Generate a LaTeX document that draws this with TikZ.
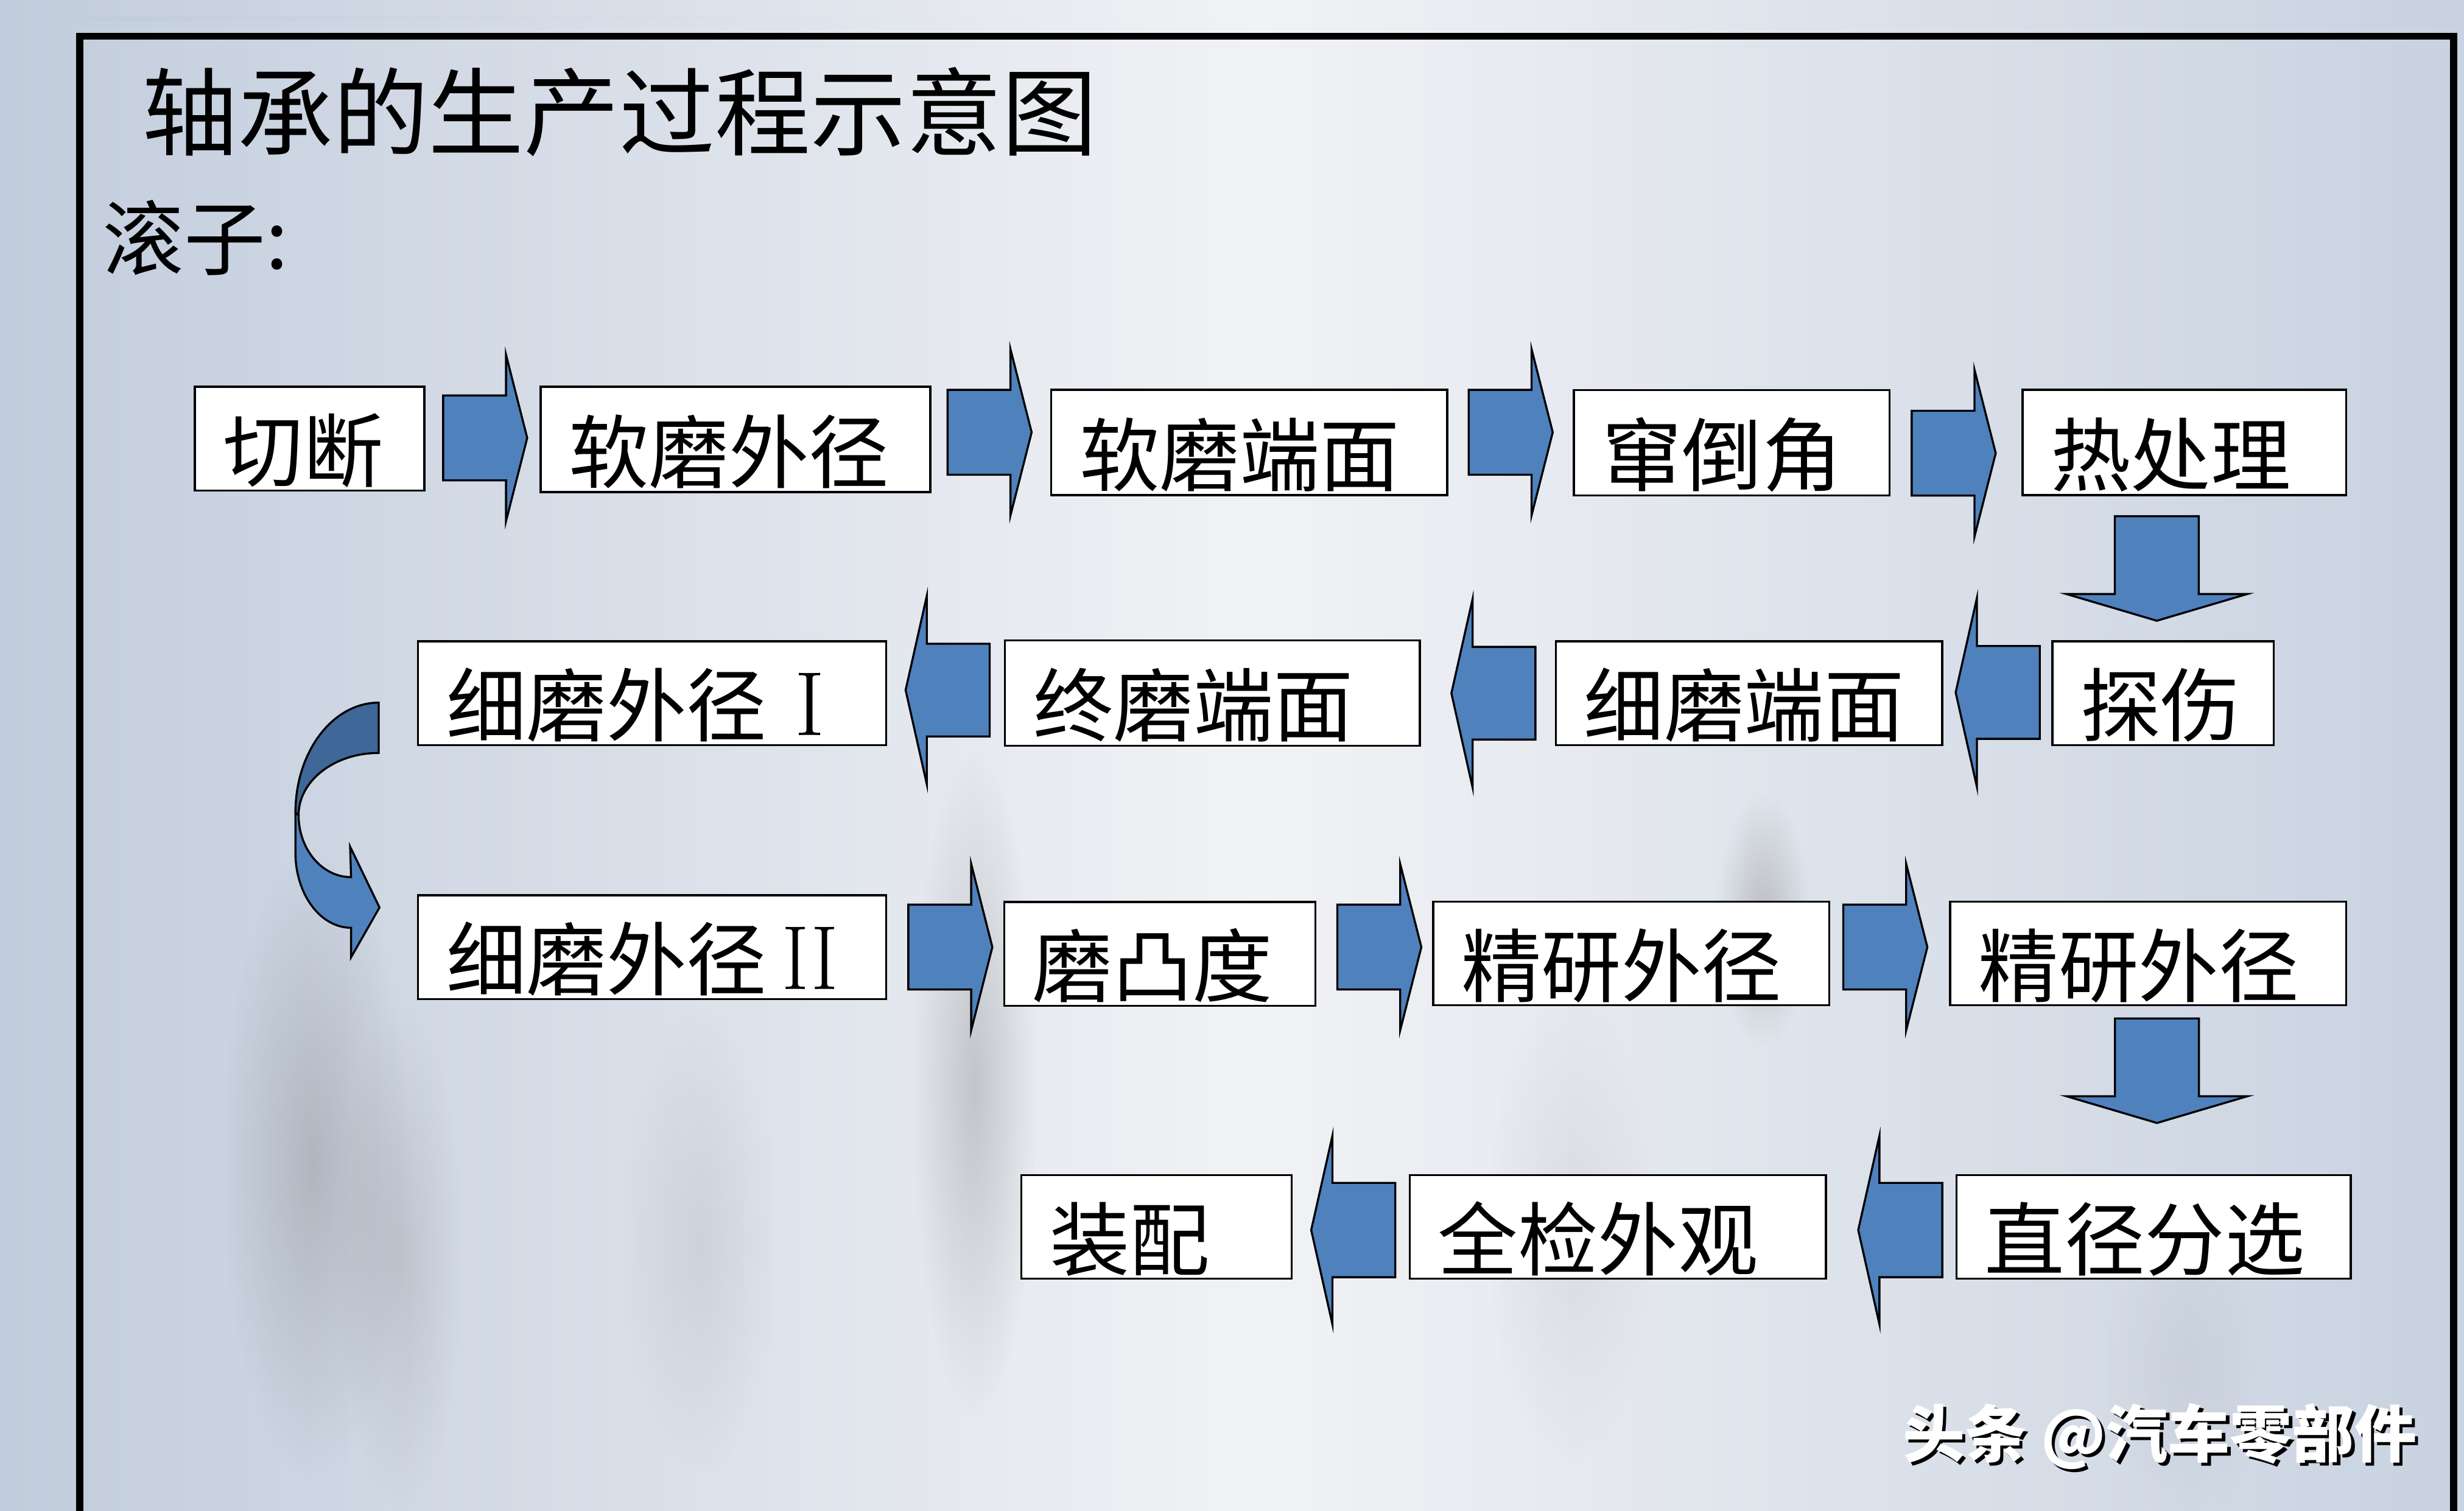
\documentclass[tikz,border=0pt]{standalone}
\usepackage{fontspec}
\usepackage{graphicx}
\newfontfamily\cjk{Noto Sans CJK SC}
\usetikzlibrary{calc}
\usetikzlibrary{fadings}
\pgfdeclarelayer{background}
\pgfdeclarelayer{edgelayer}
\pgfdeclarelayer{nodelayer}
\pgfsetlayers{background,edgelayer,nodelayer,main}
\definecolor{blockblue}{HTML}{4F81BD}
\definecolor{blockdark}{HTML}{3F6797}
\definecolor{bgside}{HTML}{C1CCDC}
\definecolor{bgmid}{HTML}{F1F2F5}
\definecolor{bgright}{HTML}{C8D2E0}
\definecolor{ruleblue}{HTML}{2C6AA3}
\tikzfading[name=fuzzy blob, inner color=transparent!0, outer color=transparent!100]
\tikzstyle{none}=[inner sep=0pt]
\tikzstyle{step_box}=[draw=black, fill=white, line width=0.74pt, inner ysep=0pt, inner xsep=0.36cm, align=left, text height=1.2cm, text depth=0.12cm, font=\cjk\fontsize{29pt}{29pt}\selectfont]
\tikzstyle{block_arrow}=[draw=black, fill=blockblue, line width=0.74pt, line join=miter]
\tikzstyle{smudge}=[black!60, path fading=fuzzy blob]
% block arrows: tail x, centre y, half shaft, half head
\newcommand{\rightblock}[4]{\draw [style=block_arrow] (#1,#2-#3) -- (#1+40,#2-#3) -- (#1+40,#2-#4) -- (#1+53.5,#2) -- (#1+40,#2+#4) -- (#1+40,#2+#3) -- (#1,#2+#3) -- cycle;}
\newcommand{\leftblock}[4]{\draw [style=block_arrow] (#1,#2-#3) -- (#1-40,#2-#3) -- (#1-40,#2-#4) -- (#1-53.5,#2) -- (#1-40,#2+#4) -- (#1-40,#2+#3) -- (#1,#2+#3) -- cycle;}
% centre x, top y
\newcommand{\downblock}[2]{\draw [style=block_arrow] (#1-26.7,#2) -- (#1+26.7,#2) -- (#1+26.7,#2+49.5) -- (#1+57.5,#2+49.5) -- (#1,#2+66.5) -- (#1-57.5,#2+49.5) -- (#1-26.7,#2+49.5) -- cycle;}

\begin{document}
\begin{tikzpicture}[x=0.02cm, y=-0.02cm]
	\useasboundingbox (0,0) rectangle (1568,961);
	\begin{pgfonlayer}{background}
		\shade [left color=bgside, right color=bgmid] (0,0) rectangle (800,961);
		\shade [left color=bgmid, right color=bgright] (800,0) rectangle (1568,961);
		% blurred figures behind the chart
		\fill [style=smudge, opacity=0.28] (200,740) ellipse (60 and 200);
		\fill [style=smudge, opacity=0.18] (255,800) ellipse (40 and 160);
		\fill [style=smudge, opacity=0.12] (445,790) ellipse (50 and 150);
		\fill [style=smudge, opacity=0.28] (620,690) ellipse (40 and 210);
		\fill [style=smudge, opacity=0.1] (1000,780) ellipse (55 and 150);
		\fill [style=smudge, opacity=0.3] (1122,585) ellipse (30 and 80);
		\fill [style=smudge, opacity=0.08] (1390,870) ellipse (50 and 100);
		\shade [left color=bgside, middle color=ruleblue, right color=bgmid] (57,10.4) rectangle (799,13.6);
		\draw [line width=0.09cm] (50.8,990) -- (50.8,23) -- (1561.5,23) -- (1561.5,990);
	\end{pgfonlayer}
	\begin{pgfonlayer}{nodelayer}
		\node [style=step_box, text width=2.2cm, minimum height=1.32cm] (0) at (197, 279) {切断};
		\node [style=step_box, text width=4.24cm, minimum height=1.34cm] (1) at (468, 279.5) {软磨外径};
		\node [style=step_box, text width=4.32cm, minimum height=1.34cm] (2) at (795, 281.5) {软磨端面};
		\node [style=step_box, text width=3.3cm, minimum height=1.34cm] (3) at (1102, 281.7) {窜倒角};
		\node [style=step_box, text width=3.4cm, minimum height=1.34cm] (4) at (1390, 281.5) {热处理};
		\node [style=step_box, text width=2.1cm, minimum height=1.32cm] (5) at (1376.5, 441) {探伤};
		\node [style=step_box, text width=4.2cm, minimum height=1.32cm] (6) at (1113, 441) {细磨端面};
		\node [style=step_box, text width=4.56cm, minimum height=1.34cm] (7) at (771.5, 441) {终磨端面};
		\node [style=step_box, text width=5.24cm, minimum height=1.32cm] (8) at (415, 441) {细磨外径\hspace{0.36cm}{\rmfamily\fontsize{33pt}{33pt}\selectfont I}};
		\node [style=step_box, text width=5.24cm, minimum height=1.32cm] (9) at (415, 602.5) {细磨外径\hspace{0.2cm}{\rmfamily\fontsize{33pt}{33pt}\selectfont\scalebox{0.9}[1]{II}}};
		\node [style=step_box, text width=3.24cm, minimum height=1.32cm] (10) at (738, 606.8) {磨凸度};
		\node [style=step_box, text width=4.32cm, minimum height=1.32cm] (11) at (1038, 606.5) {精研外径};
		\node [style=step_box, text width=4.32cm, minimum height=1.32cm] (12) at (1367, 606.5) {精研外径};
		\node [style=step_box, text width=4.3cm, minimum height=1.32cm] (13) at (1370.5, 780.5) {直径分选};
		\node [style=step_box, text width=4.58cm, minimum height=1.32cm] (14) at (1029.5, 780.5) {全检外观};
		\node [style=step_box, text width=2.72cm, minimum height=1.32cm] (15) at (736, 780.5) {装配};
	\end{pgfonlayer}
	\begin{pgfonlayer}{edgelayer}
		\rightblock{282}{278.6}{27}{53}
		\rightblock{603}{275}{27}{53}
		\rightblock{934.6}{275}{27}{53}
		\rightblock{1216.5}{288.3}{27}{53}
		\downblock{1372.5}{328.4}
		\leftblock{1298}{440.5}{29.5}{60}
		\leftblock{977.1}{441}{29.5}{60}
		\leftblock{629.8}{439}{29.5}{60}
		% turn from the second row to the third
		\draw [style=block_arrow, fill=blockdark] (241,447) .. controls (211.7,447) and (188,478.3) .. (188,517)
			-- (190,518.5) .. controls (190,496.7) and (212.8,479) .. (241,479) -- cycle;
		\draw [style=block_arrow] (188,517) -- (188,542.4) .. controls (188,568.8) and (203.8,590.2) .. (223.4,590.2)
			-- (223.4,609) -- (241.5,577.3) -- (222.8,538.6) -- (223.4,558)
			.. controls (205,558) and (190,540.3) .. (190,518.5) -- cycle;
		\rightblock{578}{602.5}{27}{53}
		\rightblock{851}{602.5}{27}{53}
		\rightblock{1173}{602.5}{27}{53}
		\downblock{1372.6}{647.9}
		\leftblock{1236}{782.5}{30}{60}
		\leftblock{887.9}{782.5}{30}{60}
	\end{pgfonlayer}
	\node [style=none, anchor=base west, font=\cjk\fontsize{34.6pt}{34.6pt}\selectfont] (16) at (90, 94.5) {轴承的生产过程示意图};
	\node [style=none, anchor=base west, font=\cjk\fontsize{29.5pt}{29.5pt}\selectfont] (17) at (65, 171) {滚子:};
	\node [style=none, anchor=base west, text=black, font=\cjk\bfseries\fontsize{22.5pt}{22.5pt}\selectfont] (18) at (1212.5, 929) {头条 @汽车零部件};
	\node [style=none, anchor=base west, text=white, font=\cjk\bfseries\fontsize{22.5pt}{22.5pt}\selectfont] (19) at (1210.5, 927) {头条 @汽车零部件};
\end{tikzpicture}
\end{document}
